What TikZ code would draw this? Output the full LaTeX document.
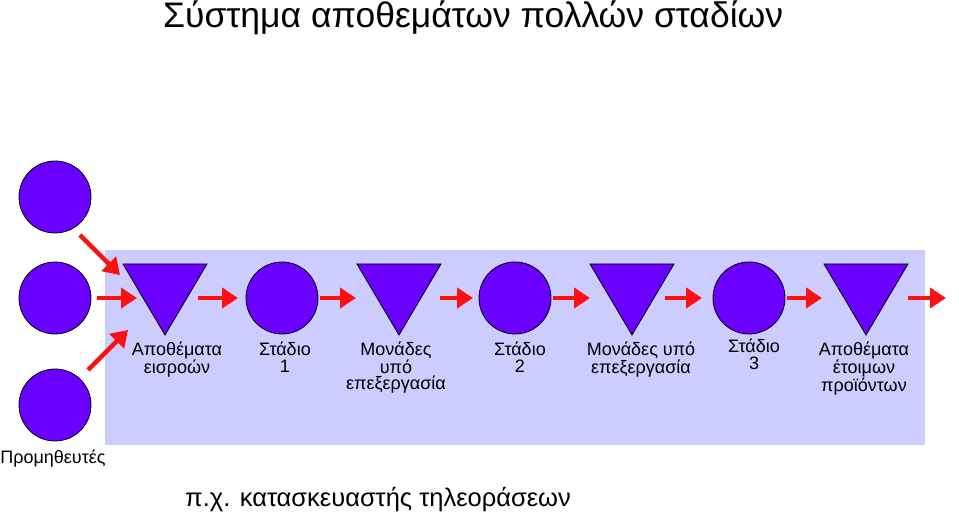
\documentclass[tikz,border=0pt]{standalone}
\usepackage{fontspec}
\setmainfont{Liberation Sans}
\usetikzlibrary{arrows.meta}
\definecolor{pur}{HTML}{6A00FF}
\definecolor{bgc}{HTML}{CCCCFF}
\definecolor{arr}{HTML}{FF1010}
\begin{document}
\begin{tikzpicture}[x=1pt,y=-1pt,
  circ/.style={circle,draw=black,line width=0.8pt,fill=pur,minimum size=72pt,inner sep=0pt},
  tri/.style={fill=pur,draw=black,line width=0.8pt},
  lab/.style={font=\fontsize{18}{16.5}\selectfont,align=center,anchor=north,inner sep=0pt},
  ra/.style={draw=arr,line width=4.5pt,-{Triangle[length=16pt,width=20pt]}}]
\useasboundingbox (0,0) rectangle (959,518);
\fill[bgc] (105,250) rectangle (925,445);
\node[anchor=west,font=\fontsize{35.5}{40}\selectfont,inner sep=0pt] (title) at (163,18) {Σύστημα αποθεμάτων πολλών σταδίων};
\node[circ] (s1) at (55,197) {};
\node[circ] (s2) at (55,298) {};
\node[circ] (s3) at (55,405) {};
\foreach \n/\x in {t1/165,t2/399,t3/632,t4/866}{
  \draw[tri] (\x-42,264) -- (\x+42,264) -- (\x,335) -- cycle;
  \coordinate (\n) at (\x,290);
}
\node[circ] (c1) at (282,298) {};
\node[circ] (c2) at (515,298) {};
\node[circ] (c3) at (749,298) {};
\coordinate (a1s) at (80,235); \coordinate (a1e) at (120,275);
\coordinate (a2s) at (97,298); \coordinate (a2e) at (137,298);
\coordinate (a3s) at (88,370); \coordinate (a3e) at (128,330);
\draw[ra] (a1s) -- (a1e);
\draw[ra] (a2s) -- (a2e);
\draw[ra] (a3s) -- (a3e);
\foreach \a/\b in {198/238,320/356,440/473,553/590,665/702,787/822,908/946}{
  \coordinate (p\a) at (\a,298); \coordinate (q\a) at (\b,298);
  \draw[ra] (p\a) -- (q\a);
}
\node[lab] (l1) at (177,342) {Αποθέματα\\εισροών};
\node[lab] (l2) at (285,342) {Στάδιο\\1};
\node[lab] (l3) at (396,342) {Μονάδες\\υπό\\επεξεργασία};
\node[lab] (l4) at (520,342) {Στάδιο\\2};
\node[lab] (l5) at (641,342) {Μονάδες υπό\\επεξεργασία};
\node[lab] (l6) at (754,339) {Στάδιο\\3};
\node[lab] (l7) at (864,342) {Αποθέματα\\έτοιμων\\προϊόντων};
\node[lab] (l8) at (53,450) {Προμηθευτές};
\node[anchor=west,font=\fontsize{25.5}{30}\selectfont,inner sep=0pt] (ex) at (185,500) {π.χ. κατασκευαστής τηλεοράσεων};
\end{tikzpicture}
\end{document}
